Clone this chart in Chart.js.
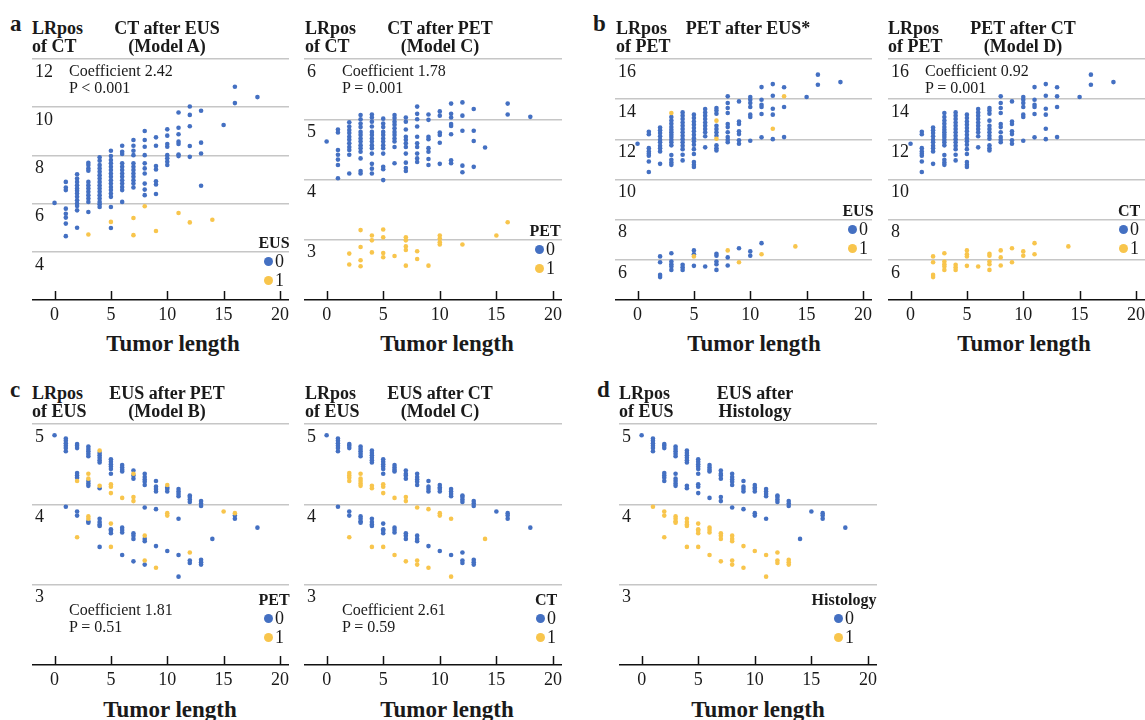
<!DOCTYPE html>
<html lang="en">
<head>
<meta charset="UTF-8">
<title>LRpos versus tumor length</title>
<script src="https://cdn.jsdelivr.net/npm/chart.js"></script>
<style>
    body { margin: 0; background: #fff; }
    #page { position: relative; width: 1145px; height: 720px; overflow: hidden; background: #fff;
            font-family: "Liberation Serif", "Times New Roman", serif; color: #1a1a1a; }
    canvas { position: absolute; }
    .txt { position: absolute; white-space: nowrap; line-height: 1; }
    .letter { font-size: 23px; font-weight: bold; }
    .ttl { font-size: 18px; font-weight: bold; }
    .note { font-size: 16px; }
    .axt { font-size: 23px; font-weight: bold; }
    .legt { font-size: 16px; font-weight: bold; }
    .legv { font-size: 18px; display: flex; align-items: center; }
    .dot { display: inline-block; width: 9px; height: 9px; border-radius: 50%; margin-right: 2px; }
</style>
</head>
<body>
<div id="page">
    <canvas id="ctEus"></canvas>
    <canvas id="ctPet"></canvas>
    <canvas id="petEus"></canvas>
    <canvas id="petCt"></canvas>
    <canvas id="eusPet"></canvas>
    <canvas id="eusCt"></canvas>
    <canvas id="eusHist"></canvas>
</div>
<script>
// ---- data ----
const xTicks = [0, 5, 10, 15, 20];

// CT after EUS (Model A): rows are [tumor length, LRpos values...]
const ctAfterEus0 = [
    [0, 6.03],
    [1, 6.9, 6.67, 6.56, 5.79, 5.58, 5.42, 5.17, 4.65],
    [2, 7.22, 7.04, 6.9, 6.76, 6.63, 6.53, 6.42, 6.28, 6.14, 6.0, 5.9, 5.72, 5.0],
    [3, 7.69, 7.6, 7.46, 7.36, 6.9, 6.76, 6.63, 6.49, 6.35, 6.21, 6.07, 5.65],
    [4, 7.92, 7.78, 7.6, 7.46, 7.32, 7.18, 7.04, 6.9, 6.76, 6.63, 6.49, 6.35, 6.21, 6.07, 5.97, 5.86],
    [5, 8.19, 7.97, 7.81, 7.67, 7.53, 7.39, 7.25, 7.11, 6.97, 6.83, 6.69, 6.56, 6.42, 6.28, 5.86, 4.99],
    [6, 8.4, 8.15, 8.06, 7.67, 7.53, 7.39, 7.25, 7.11, 6.97, 6.83, 6.69, 6.56, 6.07],
    [7, 8.64, 8.4, 8.19, 8.01, 7.67, 7.53, 7.39, 7.25, 7.11, 6.97, 6.83, 6.67],
    [8, 9.01, 8.64, 8.36, 8.01, 7.67, 7.46, 7.25, 6.83, 6.58, 6.35],
    [9, 8.75, 8.4, 7.56, 7.42, 6.93, 6.79, 6.4],
    [10, 9.08, 8.82, 8.47, 8.36, 8.01, 7.88, 7.74, 7.6],
    [11, 9.78, 9.15, 8.88, 8.57, 8.47, 8.04, 7.97],
    [12, 10.03, 9.68, 9.21, 8.39, 7.94],
    [13, 9.85, 8.53, 8.08, 6.74],
    [15, 9.26],
    [16, 10.85, 10.17],
    [18, 10.42]
];
const ctAfterEus1 = [
    [3, 4.72], [5, 5.24], [7, 5.4, 4.69], [8, 5.89], [9, 4.86],
    [11, 5.61], [12, 5.22], [14, 5.33]
];

// CT after PET (Model C)
const ctAfterPet0 = [
    [0, 4.63],
    [1, 4.83, 4.78, 4.49, 4.41, 4.33, 4.24, 4.02],
    [2, 4.95, 4.88, 4.82, 4.77, 4.71, 4.66, 4.6, 4.54, 4.49, 4.41, 4.1],
    [3, 5.07, 5.0, 4.93, 4.87, 4.79, 4.74, 4.68, 4.63, 4.57, 4.52, 4.46, 4.35, 4.14, 4.1],
    [4, 5.08, 5.03, 4.96, 4.88, 4.79, 4.74, 4.68, 4.63, 4.57, 4.52, 4.43, 4.26, 4.18, 4.1],
    [5, 5.01, 4.93, 4.87, 4.79, 4.74, 4.68, 4.63, 4.57, 4.52, 4.43, 4.21, 4.17, 3.99],
    [6, 5.07, 5.02, 4.96, 4.91, 4.85, 4.79, 4.74, 4.68, 4.63, 4.54, 4.27],
    [7, 5.03, 4.96, 4.83, 4.71, 4.66, 4.6, 4.54, 4.43, 4.28, 4.19, 4.14],
    [8, 5.21, 5.09, 5.0, 4.88, 4.71, 4.6, 4.54, 4.43, 4.35, 4.29],
    [9, 5.08, 4.99, 4.71, 4.67, 4.52, 4.46, 4.34, 4.24],
    [10, 5.13, 5.06, 4.78, 4.74, 4.61, 4.26],
    [11, 5.26, 5.09, 5.03, 4.92, 4.89, 4.75, 4.32, 4.27],
    [12, 5.28, 5.06, 4.81, 4.23, 4.12],
    [13, 5.17, 4.81, 4.64, 4.21],
    [14, 4.53],
    [16, 5.26, 5.08],
    [18, 5.04]
];
const ctAfterPet1 = [
    [2, 2.77, 2.59],
    [3, 3.16, 2.88, 2.66, 2.56],
    [4, 3.07, 2.99, 2.79],
    [5, 3.17, 3.04, 2.78, 2.71],
    [6, 2.73],
    [7, 3.04, 2.99, 2.89, 2.83, 2.57],
    [8, 2.81, 2.68],
    [9, 2.57],
    [10, 3.07, 3.02, 2.96, 2.92],
    [12, 2.92],
    [15, 3.07],
    [16, 3.29]
];

// LRpos of PET: [tumor length, LRpos, EUS, CT]
const petPoints = [
    [0, 11.78, 0, 0],
    [1, 12.38, 0, 0], [1, 12.25, 0, 0], [1, 11.56, 0, 0], [1, 11.4, 0, 0], [1, 11.28, 0, 0], [1, 11.18, 0, 0], [1, 10.9, 0, 0], [1, 10.37, 0, 0],
    [2, 12.59, 0, 0], [2, 12.45, 0, 0], [2, 12.31, 0, 0], [2, 12.15, 0, 0], [2, 11.98, 0, 0], [2, 11.85, 0, 0], [2, 11.68, 0, 0], [2, 11.55, 0, 0], [2, 11.4, 0, 0], [2, 10.78, 0, 0],
    [3, 13.31, 1, 0], [3, 13.11, 0, 0], [3, 12.94, 0, 0], [3, 12.78, 0, 0], [3, 12.61, 0, 0], [3, 12.48, 0, 0], [3, 12.35, 0, 0], [3, 12.23, 0, 0], [3, 12.11, 0, 0], [3, 11.98, 0, 0], [3, 11.85, 0, 0], [3, 11.7, 0, 0], [3, 11.22, 0, 0], [3, 10.98, 0, 0], [3, 10.85, 0, 0], [3, 10.73, 0, 0],
    [4, 13.34, 0, 0], [4, 13.18, 0, 0], [4, 13.01, 0, 0], [4, 12.84, 0, 0], [4, 12.68, 0, 0], [4, 12.51, 0, 0], [4, 12.35, 0, 0], [4, 12.18, 0, 0], [4, 12.01, 0, 0], [4, 11.85, 0, 0], [4, 11.68, 0, 0], [4, 11.51, 0, 0], [4, 11.23, 0, 0], [4, 10.95, 0, 0],
    [5, 13.23, 0, 0], [5, 13.06, 0, 0], [5, 12.89, 0, 0], [5, 12.73, 0, 0], [5, 12.56, 0, 0], [5, 12.4, 0, 0], [5, 12.23, 0, 0], [5, 12.06, 0, 0], [5, 11.9, 0, 0], [5, 11.73, 0, 0], [5, 11.51, 0, 0], [5, 11.27, 0, 0], [5, 10.87, 0, 0], [5, 10.73, 0, 0], [5, 10.62, 0, 0],
    [6, 13.51, 0, 0], [6, 13.34, 0, 0], [6, 13.18, 0, 0], [6, 13.01, 0, 0], [6, 12.84, 0, 0], [6, 12.68, 0, 0], [6, 12.51, 0, 0], [6, 12.35, 0, 0], [6, 12.15, 0, 0], [6, 11.6, 0, 0],
    [7, 13.56, 0, 0], [7, 13.43, 0, 0], [7, 13.28, 0, 0], [7, 12.93, 1, 0], [7, 12.68, 0, 0], [7, 12.51, 0, 0], [7, 12.35, 0, 0], [7, 12.18, 0, 0], [7, 12.03, 1, 0], [7, 11.7, 0, 0], [7, 11.56, 0, 0], [7, 11.45, 0, 0],
    [8, 14.14, 0, 0], [8, 13.81, 0, 0], [8, 13.56, 0, 0], [8, 13.31, 0, 0], [8, 12.76, 0, 0], [8, 12.61, 0, 0], [8, 12.35, 0, 0], [8, 12.11, 0, 0], [8, 11.98, 0, 0], [8, 11.86, 0, 0],
    [9, 13.89, 0, 0], [9, 12.89, 0, 0], [9, 12.76, 0, 0], [9, 12.4, 0, 0], [9, 12.26, 0, 0], [9, 11.95, 0, 0], [9, 11.78, 0, 0],
    [10, 14.11, 0, 0], [10, 13.97, 0, 0], [10, 13.81, 0, 0], [10, 13.61, 0, 0], [10, 13.23, 0, 0], [10, 13.11, 0, 0], [10, 11.93, 0, 0],
    [11, 14.6, 0, 0], [11, 13.97, 0, 0], [11, 13.72, 0, 0], [11, 13.61, 0, 0], [11, 13.26, 0, 0], [11, 12.1, 0, 0],
    [12, 14.75, 0, 0], [12, 14.17, 0, 0], [12, 13.52, 0, 0], [12, 13.23, 0, 0], [12, 12.53, 1, 0], [12, 12.01, 0, 0],
    [13, 14.59, 0, 0], [13, 14.14, 1, 0], [13, 13.61, 0, 0], [13, 12.11, 0, 0],
    [15, 14.11, 0, 0],
    [16, 15.22, 0, 0], [16, 14.72, 0, 0],
    [18, 14.85, 0, 0],
    [2, 6.17, 0, 1], [2, 5.88, 0, 1], [2, 5.25, 0, 1], [2, 5.14, 0, 1],
    [3, 6.33, 0, 1], [3, 5.92, 0, 1], [3, 5.78, 0, 1], [3, 5.67, 0, 1], [3, 5.5, 0, 1],
    [4, 5.75, 0, 1], [4, 5.63, 0, 1], [4, 5.5, 0, 1],
    [5, 6.47, 0, 1], [5, 6.28, 0, 1], [5, 6.17, 1, 1], [5, 5.7, 0, 1],
    [6, 5.67, 0, 1],
    [7, 6.3, 0, 1], [7, 6.2, 0, 1], [7, 5.92, 0, 1], [7, 5.78, 0, 1], [7, 5.5, 0, 1],
    [8, 6.47, 1, 1], [8, 6.12, 0, 1], [8, 5.72, 0, 1],
    [9, 6.58, 0, 1], [9, 5.88, 1, 1],
    [10, 6.42, 0, 1], [10, 6.2, 0, 1],
    [11, 6.83, 0, 1], [11, 6.28, 1, 1],
    [14, 6.67, 1, 1]
];

// LRpos of EUS: [tumor length, LRpos, PET, CT, Histology]
const eusPoints = [
    [0, 4.86, 0, 0, 0],
    [1, 4.82, 0, 0, 0], [1, 4.79, 0, 0, 0], [1, 4.76, 0, 0, 0], [1, 4.73, 0, 0, 0], [1, 4.70, 0, 0, 0], [1, 4.66, 0, 0, 0], [1, 3.97, 0, 0, 1],
    [2, 4.75, 0, 0, 0], [2, 4.73, 0, 0, 0], [2, 4.70, 0, 0, 0], [2, 4.39, 0, 1, 0], [2, 4.36, 0, 1, 0], [2, 4.33, 0, 1, 0], [2, 4.29, 1, 1, 0], [2, 3.91, 0, 0, 1], [2, 3.86, 0, 0, 1], [2, 3.59, 1, 1, 1],
    [3, 4.72, 0, 0, 0], [3, 4.69, 0, 0, 0], [3, 4.66, 0, 0, 0], [3, 4.63, 0, 0, 0], [3, 4.60, 0, 0, 0], [3, 4.38, 1, 1, 0], [3, 4.32, 1, 1, 0], [3, 4.29, 0, 1, 0], [3, 4.26, 0, 1, 0], [3, 4.23, 0, 1, 0], [3, 3.85, 1, 0, 1], [3, 3.82, 1, 0, 1], [3, 3.79, 0, 0, 1], [3, 3.77, 0, 0, 1],
    [4, 4.67, 1, 0, 0], [4, 4.64, 0, 0, 0], [4, 4.61, 0, 0, 0], [4, 4.58, 0, 0, 0], [4, 4.55, 0, 0, 0], [4, 4.52, 0, 0, 0], [4, 4.23, 1, 1, 0], [4, 4.20, 0, 1, 0], [4, 3.82, 0, 0, 1], [4, 3.78, 0, 0, 1], [4, 3.75, 0, 0, 1], [4, 3.73, 0, 0, 1], [4, 3.47, 0, 1, 1],
    [5, 4.56, 0, 0, 0], [5, 4.53, 0, 0, 0], [5, 4.50, 0, 0, 0], [5, 4.47, 0, 0, 0], [5, 4.44, 0, 0, 0], [5, 4.38, 0, 0, 0], [5, 4.25, 1, 1, 0], [5, 4.22, 1, 1, 0], [5, 4.14, 1, 1, 0], [5, 3.76, 1, 0, 1], [5, 3.69, 0, 0, 1], [5, 3.67, 0, 0, 1], [5, 3.64, 0, 0, 1], [5, 3.47, 1, 1, 1],
    [6, 4.49, 0, 0, 0], [6, 4.46, 0, 0, 0], [6, 4.43, 0, 0, 0], [6, 4.41, 0, 0, 0], [6, 4.08, 1, 1, 0], [6, 3.71, 0, 0, 1], [6, 3.68, 0, 0, 1], [6, 3.65, 0, 0, 1], [6, 3.37, 0, 1, 1],
    [7, 4.42, 0, 0, 0], [7, 4.38, 1, 0, 0], [7, 4.36, 0, 0, 0], [7, 4.32, 0, 0, 0], [7, 4.09, 1, 1, 0], [7, 4.04, 1, 1, 0], [7, 3.64, 0, 0, 1], [7, 3.61, 0, 0, 1], [7, 3.57, 0, 0, 1], [7, 3.29, 0, 1, 1],
    [8, 4.38, 0, 0, 0], [8, 4.34, 0, 0, 0], [8, 4.31, 0, 0, 0], [8, 4.28, 0, 0, 0], [8, 4.24, 0, 0, 0], [8, 3.96, 0, 1, 0], [8, 3.61, 1, 0, 1], [8, 3.57, 0, 0, 1], [8, 3.54, 0, 0, 1], [8, 3.30, 1, 1, 1], [8, 3.25, 0, 1, 1],
    [9, 4.29, 0, 0, 0], [9, 4.22, 0, 0, 0], [9, 4.19, 0, 0, 0], [9, 4.16, 0, 0, 0], [9, 3.94, 0, 1, 0], [9, 3.48, 0, 0, 1], [9, 3.21, 1, 1, 1],
    [10, 4.24, 1, 0, 0], [10, 4.21, 0, 0, 0], [10, 4.19, 0, 0, 0], [10, 4.16, 0, 0, 0], [10, 3.89, 1, 1, 0], [10, 3.86, 1, 1, 0], [10, 3.42, 0, 0, 1],
    [11, 4.19, 0, 0, 0], [11, 4.16, 0, 0, 0], [11, 4.13, 0, 0, 0], [11, 4.10, 0, 0, 0], [11, 3.82, 0, 1, 0], [11, 3.37, 0, 0, 1], [11, 3.10, 0, 1, 1],
    [12, 4.11, 0, 0, 0], [12, 4.09, 0, 0, 0], [12, 4.06, 0, 0, 0], [12, 4.03, 0, 0, 0], [12, 3.40, 1, 0, 1], [12, 3.30, 0, 0, 1], [12, 3.27, 0, 0, 1],
    [13, 4.04, 0, 0, 0], [13, 4.01, 0, 0, 0], [13, 3.98, 0, 0, 0], [13, 3.31, 0, 0, 1], [13, 3.28, 0, 0, 1], [13, 3.25, 0, 0, 1],
    [14, 3.57, 0, 1, 0],
    [15, 3.91, 1, 0, 0],
    [16, 3.89, 1, 0, 0], [16, 3.86, 0, 0, 0], [16, 3.82, 0, 0, 0],
    [18, 3.71, 0, 0, 0]
];

// ---- helpers ----
const BLUE = '#4470c2';
const GOLD = '#f8c54c';
const SERIF = '"Liberation Serif", "Times New Roman", serif';
const PAD = 5;      // room above the top grid line
const XAXIS = 30;   // room below the plot for x tick labels

function fromRows(rows) {
    return rows.flatMap(([x, ...ys]) => ys.map(y => ({ x: x, y: y })));
}
function fromPoints(points, col, flag) {
    return points.filter(p => p[col] === flag).map(p => ({ x: p[0], y: p[1] }));
}

// small tick marks standing up from the x axis
const tickMarks = {
    id: 'tickMarks',
    afterDraw(chart) {
        const { ctx, chartArea, scales: { x } } = chart;
        ctx.save();
        ctx.strokeStyle = '#111';
        ctx.lineWidth = 1.5;
        x.ticks.forEach(t => {
            const px = Math.round(x.getPixelForValue(t.value)) + 0.5;
            ctx.beginPath();
            ctx.moveTo(px, chartArea.bottom);
            ctx.lineTo(px, chartArea.bottom - 9);
            ctx.stroke();
        });
        ctx.restore();
    }
};

function scatterPanel(id, box, yMin, yMax, yTicks, group0, group1) {
    const cv = document.getElementById(id);
    cv.width = box.w;
    cv.height = PAD + box.h + XAXIS;
    cv.style.left = box.x + 'px';
    cv.style.top = (box.y - PAD) + 'px';
    const tickFont = { family: SERIF, size: 18 };
    const dots = { pointRadius: 2.3, pointHoverRadius: 0, borderWidth: 0 };
    return new Chart(cv, {
        type: 'scatter',
        data: {
            datasets: [
                Object.assign({ data: group1, backgroundColor: GOLD }, dots),
                Object.assign({ data: group0, backgroundColor: BLUE }, dots)
            ]
        },
        options: {
            responsive: false,
            animation: false,
            layout: { autoPadding: false, padding: { top: PAD, left: 0, right: 0, bottom: 0 } },
            plugins: { legend: { display: false }, tooltip: { enabled: false } },
            scales: {
                x: {
                    type: 'linear', min: -2, max: 20.8,
                    afterFit: s => { s.height = XAXIS; s.paddingLeft = 0; s.paddingRight = 0; },
                    afterBuildTicks: s => { s.ticks = xTicks.map(v => ({ value: v })); },
                    grid: { display: true, drawOnChartArea: false, drawTicks: false },
                    border: { display: true, color: '#111', width: 1.5 },
                    ticks: { padding: 4, color: '#1a1a1a', font: tickFont }
                },
                y: {
                    type: 'linear', min: yMin, max: yMax,
                    afterFit: s => { s.width = 0; s.paddingTop = 0; s.paddingBottom = 0; },
                    afterBuildTicks: s => { s.ticks = yTicks.map(v => ({ value: v })); },
                    grid: { color: '#c6c6c6', lineWidth: 1.5, drawTicks: false },
                    border: { display: false },
                    ticks: { mirror: true, padding: 3, labelOffset: 13, color: '#1a1a1a', font: tickFont }
                }
            }
        },
        plugins: [tickMarks]
    });
}

// ---- charts ----
scatterPanel('ctEus', { x: 32, y: 59, w: 257, h: 241 }, 2, 12, [4, 6, 8, 10, 12],
    fromRows(ctAfterEus0), fromRows(ctAfterEus1));
scatterPanel('ctPet', { x: 304, y: 59, w: 258, h: 241 }, 2, 6, [3, 4, 5, 6],
    fromRows(ctAfterPet0), fromRows(ctAfterPet1));
scatterPanel('petEus', { x: 615, y: 59, w: 257, h: 241 }, 4, 16, [6, 8, 10, 12, 14, 16],
    fromPoints(petPoints, 2, 0), fromPoints(petPoints, 2, 1));
scatterPanel('petCt', { x: 888, y: 59, w: 257, h: 241 }, 4, 16, [6, 8, 10, 12, 14, 16],
    fromPoints(petPoints, 3, 0), fromPoints(petPoints, 3, 1));
scatterPanel('eusPet', { x: 32, y: 424, w: 257, h: 241 }, 2, 5, [3, 4, 5],
    fromPoints(eusPoints, 2, 0), fromPoints(eusPoints, 2, 1));
scatterPanel('eusCt', { x: 304, y: 424, w: 258, h: 241 }, 2, 5, [3, 4, 5],
    fromPoints(eusPoints, 3, 0), fromPoints(eusPoints, 3, 1));
scatterPanel('eusHist', { x: 619, y: 424, w: 258, h: 241 }, 2, 5, [3, 4, 5],
    fromPoints(eusPoints, 4, 0), fromPoints(eusPoints, 4, 1));

// ---- text ----
const page = document.getElementById('page');
// [text, x, y(center), class, align]
const texts = [
    ['a', 10, 23, 'letter', 'l'], ['b', 593, 23, 'letter', 'l'],
    ['c', 10, 389, 'letter', 'l'], ['d', 597, 389, 'letter', 'l'],

    ['LRpos', 32, 28, 'ttl', 'l'], ['of CT', 32, 46, 'ttl', 'l'],
    ['CT after EUS', 167, 28, 'ttl', 'c'], ['(Model A)', 167, 46, 'ttl', 'c'],
    ['LRpos', 305, 28, 'ttl', 'l'], ['of CT', 305, 46, 'ttl', 'l'],
    ['CT after PET', 440, 28, 'ttl', 'c'], ['(Model C)', 440, 46, 'ttl', 'c'],
    ['LRpos', 616, 28, 'ttl', 'l'], ['of PET', 616, 46, 'ttl', 'l'],
    ['PET after EUS*', 748, 28, 'ttl', 'c'],
    ['LRpos', 888, 28, 'ttl', 'l'], ['of PET', 888, 46, 'ttl', 'l'],
    ['PET after CT', 1023, 28, 'ttl', 'c'], ['(Model D)', 1023, 46, 'ttl', 'c'],

    ['LRpos', 32, 393, 'ttl', 'l'], ['of EUS', 32, 411, 'ttl', 'l'],
    ['EUS after PET', 167, 393, 'ttl', 'c'], ['(Model B)', 167, 411, 'ttl', 'c'],
    ['LRpos', 305, 393, 'ttl', 'l'], ['of EUS', 305, 411, 'ttl', 'l'],
    ['EUS after CT', 440, 393, 'ttl', 'c'], ['(Model C)', 440, 411, 'ttl', 'c'],
    ['LRpos', 619, 393, 'ttl', 'l'], ['of EUS', 619, 411, 'ttl', 'l'],
    ['EUS after', 755, 393, 'ttl', 'c'], ['Histology', 755, 411, 'ttl', 'c'],

    ['Coefficient 2.42', 69, 71, 'note', 'l'], ['P < 0.001', 69, 88, 'note', 'l'],
    ['Coefficient 1.78', 342, 71, 'note', 'l'], ['P = 0.001', 342, 88, 'note', 'l'],
    ['Coefficient 0.92', 925, 71, 'note', 'l'], ['P = 0.001', 925, 88, 'note', 'l'],
    ['Coefficient 1.81', 69, 610, 'note', 'l'], ['P = 0.51', 69, 627, 'note', 'l'],
    ['Coefficient 2.61', 342, 610, 'note', 'l'], ['P = 0.59', 342, 627, 'note', 'l'],

    ['Tumor length', 173, 343, 'axt', 'c'], ['Tumor length', 447, 343, 'axt', 'c'],
    ['Tumor length', 754, 343, 'axt', 'c'], ['Tumor length', 1024, 343, 'axt', 'c'],
    ['Tumor length', 170, 709, 'axt', 'c'], ['Tumor length', 447, 709, 'axt', 'c'],
    ['Tumor length', 758, 709, 'axt', 'c']
];
const shift = { l: '0', c: '-50%', r: '-100%' };
texts.forEach(([t, x, y, cls, al]) => {
    const d = document.createElement('div');
    d.className = 'txt ' + cls;
    d.textContent = t;
    d.style.left = x + 'px';
    d.style.top = y + 'px';
    d.style.transform = `translate(${shift[al]}, -50%)`;
    page.appendChild(d);
});

// legends: [title, center x, title y, first item y, second item y]
const legends = [
    ['EUS', 274, 243, 261, 280],
    ['PET', 545, 231, 249, 268],
    ['EUS', 858, 211, 229, 248],
    ['CT', 1129, 211, 229, 248],
    ['PET', 274, 600, 618, 637],
    ['CT', 546, 600, 618, 637],
    ['Histology', 844, 600, 618, 637]
];
legends.forEach(([title, cx, ty, y0, y1]) => {
    const h = document.createElement('div');
    h.className = 'txt legt';
    h.textContent = title;
    h.style.left = cx + 'px';
    h.style.top = ty + 'px';
    h.style.transform = 'translate(-50%, -50%)';
    page.appendChild(h);
    [[y0, BLUE, '0'], [y1, GOLD, '1']].forEach(([y, col, v]) => {
        const it = document.createElement('div');
        it.className = 'txt legv';
        it.innerHTML = `<span class="dot" style="background:${col}"></span>${v}`;
        it.style.left = cx + 'px';
        it.style.top = y + 'px';
        it.style.transform = 'translate(-50%, -50%)';
        page.appendChild(it);
    });
});
</script>
</body>
</html>
